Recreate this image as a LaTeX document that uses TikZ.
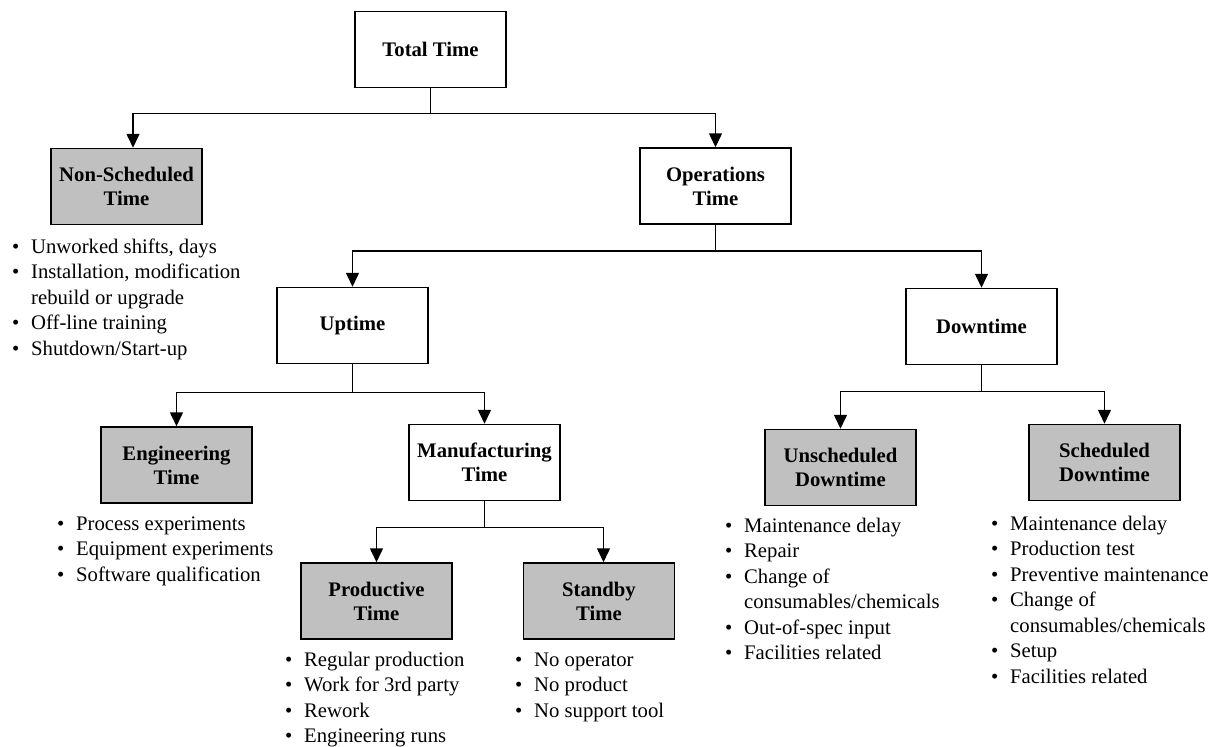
\documentclass[tikz,border=0pt]{standalone}
\usepackage{fontspec}
\setmainfont{Liberation Serif}
\usetikzlibrary{arrows.meta}
\definecolor{boxgray}{HTML}{C0C0C0}
\newcommand{\boxfont}{\fontsize{20.7}{24}\selectfont\bfseries}
\newcommand{\listfont}{\fontsize{20.7}{25.5}\selectfont}
\newcommand{\itm}{\makebox[19pt][l]{\textbullet}}
\newcommand{\cnt}{\hspace*{19pt}}
\tikzset{
    tbox/.style={rectangle, draw, line width=1.5pt, minimum width=151pt,
        minimum height=76pt, inner sep=0pt, align=center, font=\boxfont},
    gbox/.style={tbox, fill=boxgray},
    blist/.style={anchor=north west, inner sep=0pt, align=left, font=\listfont},
    stem/.style={line width=1.5pt},
    arr/.style={line width=1.5pt, -{Triangle[width=13pt,length=14pt]}}
}

\begin{document}
\begin{tikzpicture}[x=1pt, y=-1pt]
    \useasboundingbox (0,0) rectangle (1219,747);

    \node[tbox] (tt)  at (430.5,49.5)  {Total Time};
    \node[gbox] (ns)  at (126.5,186.5) {Non-Scheduled\\Time};
    \node[tbox] (ops) at (715.5,186)   {Operations\\Time};
    \node[tbox] (up)  at (352.5,325.5) {Uptime};
    \node[tbox] (dn)  at (981.5,326.5) {Downtime};
    \node[gbox] (eng) at (176.5,465)   {Engineering\\Time};
    \node[tbox] (man) at (484.5,462.5) {Manufacturing\\Time};
    \node[gbox] (prd) at (376.5,601)   {Productive\\Time};
    \node[gbox] (stb) at (599,601)     {Standby\\Time};
    \node[gbox] (uns) at (840.5,467.5) {Unscheduled\\Downtime};
    \node[gbox] (sch) at (1104.5,462.5) {Scheduled\\Downtime};

    % item lists under the boxes
    \node[blist] (nsl) at (12,235) {\strut\itm Unworked shifts, days\\
        \itm Installation, modification\\ \cnt rebuild or upgrade\\
        \itm Off-line training\\ \itm Shutdown/Start-up};
    \node[blist] (engl) at (57,512) {\strut\itm Process experiments\\
        \itm Equipment experiments\\ \itm Software qualification};
    \node[blist] (prdl) at (285,648) {\strut\itm Regular production\\
        \itm Work for 3rd party\\ \itm Rework\\ \itm Engineering runs};
    \node[blist] (stbl) at (515,648) {\strut\itm No operator\\
        \itm No product\\ \itm No support tool};
    \node[blist] (unsl) at (725,514) {\strut\itm Maintenance delay\\
        \itm Repair\\ \itm Change of\\ \cnt consumables/chemicals\\
        \itm Out-of-spec input\\ \itm Facilities related};
    \node[blist] (schl) at (991,512) {\strut\itm Maintenance delay\\
        \itm Production test\\ \itm Preventive maintenance\\ \itm Change of\\
        \cnt consumables/chemicals\\ \itm Setup\\ \itm Facilities related};

    \draw[stem] (tt.south) -- ++(0,25) coordinate (t0);
    \draw[arr] (t0) -| ([xshift=6.5pt]ns.north);
    \draw[arr] (t0) -| (ops.north);

    \draw[stem] (ops.south) -- ++(0,26) coordinate (o0);
    \draw[arr] (o0) -| (up.north);
    \draw[arr] (o0) -| (dn.north);

    \draw[stem] (up.south) -- ++(0,28) coordinate (u0);
    \draw[arr] (u0) -| (eng.north);
    \draw[arr] (u0) -| (man.north);

    \draw[stem] (dn.south) -- ++(0,26) coordinate (d0);
    \draw[arr] (d0) -| (uns.north);
    \draw[arr] (d0) -| (sch.north);

    \draw[stem] (man.south) -- ++(0,26) coordinate (m0);
    \draw[arr] (m0) -| (prd.north);
    \draw[arr] (m0) -| ([xshift=4.5pt]stb.north);
\end{tikzpicture}
\end{document}
